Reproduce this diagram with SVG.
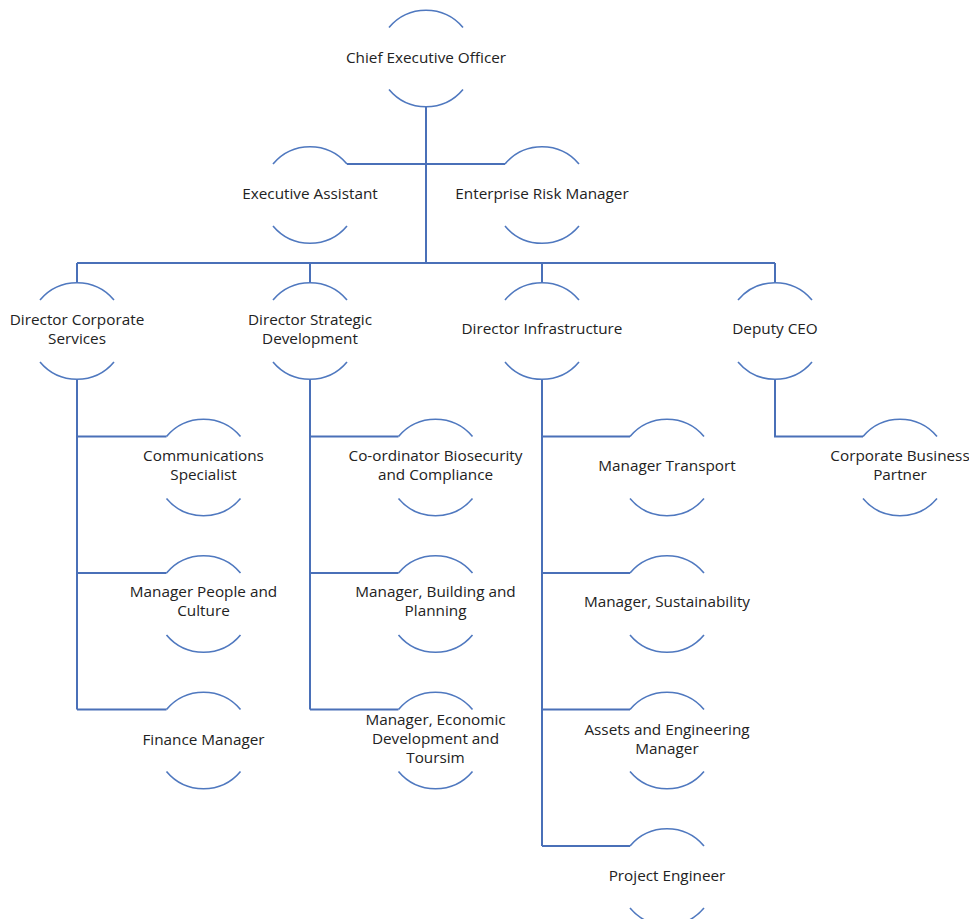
<svg xmlns="http://www.w3.org/2000/svg" width="969" height="919" viewBox="0 0 969 919">
<style>
.bg{fill:#ffffff}
.arc{fill:none;stroke:#4f78bf;stroke-width:1.6}
.con{fill:none;stroke:#4a70b8;stroke-width:2}
.t{font-family:"Open Sans","Liberation Sans",sans-serif;font-size:15.3px;fill:#222222;text-anchor:middle}
</style>
<defs>
<g id="shape">
<path class="arc" d="M-37 -31 A48.3 48.3 0 0 1 37 -31"/>
<path class="arc" d="M-37 31 A48.3 48.3 0 0 0 37 31"/>
</g>
</defs>
<rect class="bg" x="0" y="0" width="969" height="919"/>
<g id="connectors">
<path class="con" d="M426 107 V263"/>
<path class="con" d="M347 164 H505"/>
<path class="con" d="M77 263 H775 M77 263 V283 M310 263 V283 M542 263 V283 M775 263 V283"/>
<path class="con" d="M77 380 V709.5 M77 436.5 H166.5 M77 573 H166.5 M77 709.5 H166.5"/>
<path class="con" d="M310 380 V709.5 M310 436.5 H398.5 M310 573 H398.5 M310 709.5 H398.5"/>
<path class="con" d="M542 380 V846 M542 436.5 H630 M542 573 H630 M542 709.5 H630 M542 846 H630"/>
<path class="con" d="M775 380 V436.5 H863"/>
</g>
<g id="ceo"><use href="#shape" x="426" y="58.5"/><text class="t" x="426" y="63">Chief Executive Officer</text></g>
<g id="ea"><use href="#shape" x="310" y="195"/><text class="t" x="310" y="199">Executive Assistant</text></g>
<g id="erm"><use href="#shape" x="542" y="195"/><text class="t" x="542" y="199">Enterprise Risk Manager</text></g>
<g id="dcs"><use href="#shape" x="77" y="331"/><text class="t" x="77" y="325">Director Corporate</text><text class="t" x="77" y="344">Services</text></g>
<g id="dsd"><use href="#shape" x="310" y="331"/><text class="t" x="310" y="325">Director Strategic</text><text class="t" x="310" y="344">Development</text></g>
<g id="di"><use href="#shape" x="542" y="331"/><text class="t" x="542" y="334">Director Infrastructure</text></g>
<g id="dceo"><use href="#shape" x="775" y="331"/><text class="t" x="775" y="334">Deputy CEO</text></g>
<g id="comms"><use href="#shape" x="203.5" y="467.5"/><text class="t" x="203.5" y="461">Communications</text><text class="t" x="203.5" y="480">Specialist</text></g>
<g id="mpc"><use href="#shape" x="203.5" y="604"/><text class="t" x="203.5" y="597">Manager People and</text><text class="t" x="203.5" y="616">Culture</text></g>
<g id="fm"><use href="#shape" x="203.5" y="740.5"/><text class="t" x="203.5" y="745">Finance Manager</text></g>
<g id="cbc"><use href="#shape" x="435.5" y="467.5"/><text class="t" x="435.5" y="461">Co-ordinator Biosecurity</text><text class="t" x="435.5" y="480">and Compliance</text></g>
<g id="mbp"><use href="#shape" x="435.5" y="604"/><text class="t" x="435.5" y="597">Manager, Building and</text><text class="t" x="435.5" y="616">Planning</text></g>
<g id="medt"><use href="#shape" x="435.5" y="740.5"/><text class="t" x="435.5" y="725">Manager, Economic</text><text class="t" x="435.5" y="744">Development and</text><text class="t" x="435.5" y="763">Toursim</text></g>
<g id="mt"><use href="#shape" x="667" y="467.5"/><text class="t" x="667" y="471">Manager Transport</text></g>
<g id="ms"><use href="#shape" x="667" y="604"/><text class="t" x="667" y="607">Manager, Sustainability</text></g>
<g id="aem"><use href="#shape" x="667" y="740.5"/><text class="t" x="667" y="735">Assets and Engineering</text><text class="t" x="667" y="754">Manager</text></g>
<g id="pe"><use href="#shape" x="667" y="877"/><text class="t" x="667" y="881">Project Engineer</text></g>
<g id="cbp"><use href="#shape" x="900" y="467.5"/><text class="t" x="900" y="461">Corporate Business</text><text class="t" x="900" y="480">Partner</text></g>
</svg>
